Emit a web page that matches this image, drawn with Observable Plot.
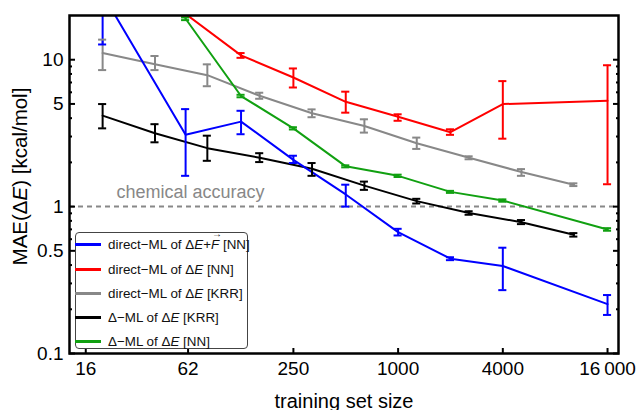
<!DOCTYPE html>
<html><head><meta charset="utf-8">
<script src="https://cdn.jsdelivr.net/npm/d3@7"></script>
<script src="https://cdn.jsdelivr.net/npm/@observablehq/plot@0.6"></script>
<style>
body{margin:0;background:#fff;font-family:"Liberation Sans",Arial,sans-serif;}
#wrap{position:relative;width:638px;height:410px;}
#legend{position:absolute;left:75px;top:232px;width:173px;height:117px;border:1px solid #444;border-radius:4px;background:#fff;box-sizing:border-box;font-size:13.4px;color:#111;}
.row{position:absolute;left:-1px;height:16px;display:flex;align-items:center;white-space:nowrap;}
.sw{width:26px;height:3px;margin-right:7px;}
.vec{position:relative;display:inline-block;}
.vec::after{content:"\2192";position:absolute;left:1px;top:-9px;font-size:10px;font-style:normal;}
</style></head><body><div id="wrap"><div id="plot"></div><div id="legend"></div></div>
<script>
// ---- data ----
const seriesNames = ["direct-ML ΔE+F [NN]", "direct-ML ΔE [NN]", "direct-ML ΔE [KRR]", "Δ-ML ΔE [KRR]", "Δ-ML ΔE [NN]"];
const seriesColors = ["#0000ff", "#ff0000", "#888888", "#000000", "#11a011"];

const blueX = [20, 60, 125, 250, 500, 1000, 2000, 4000, 16000];
const blueY = [28, 3.08, 3.79, 2.08, 1.21, 0.67, 0.442, 0.394, 0.217];
const blueLo = [12.7, 1.62, 3.11, 1.98, 1.0, 0.636, 0.432, 0.27, 0.183];
const blueHi = [40, 4.61, 4.49, 2.22, 1.41, 0.706, 0.452, 0.525, 0.25];

const redX = [60, 125, 250, 500, 1000, 2000, 4000, 16000];
const redY = [20.5, 10.7, 7.57, 5.17, 4.09, 3.21, 4.99, 5.26];
const redLo = [20.0, 10.3, 6.47, 4.36, 3.84, 3.08, 2.90, 1.42];
const redHi = [21.0, 11.1, 8.72, 6.06, 4.25, 3.36, 7.15, 9.17];

const grayX = [20, 40, 80, 160, 320, 640, 1280, 2560, 5120, 10240];
const grayY = [11.1, 9.3, 7.85, 5.68, 4.32, 3.54, 2.70, 2.15, 1.72, 1.41];
const grayLo = [8.5, 8.5, 6.6, 5.42, 4.06, 3.19, 2.47, 2.10, 1.62, 1.38];
const grayHi = [13.7, 10.6, 9.3, 5.96, 4.59, 3.93, 2.95, 2.20, 1.80, 1.44];

const blackX = [20, 40, 80, 160, 320, 640, 1280, 2560, 5120, 10240];
const blackY = [4.16, 3.16, 2.50, 2.15, 1.81, 1.39, 1.09, 0.906, 0.783, 0.643];
const blackLo = [3.41, 2.74, 2.05, 2.01, 1.62, 1.30, 1.05, 0.88, 0.76, 0.625];
const blackHi = [4.99, 3.64, 3.04, 2.31, 1.98, 1.48, 1.13, 0.93, 0.81, 0.66];

const greenX = [60, 125, 250, 500, 1000, 2000, 4000, 16000];
const greenY = [19.0, 5.66, 3.41, 1.88, 1.62, 1.26, 1.10, 0.699];
const greenLo = [18.6, 5.55, 3.35, 1.85, 1.59, 1.24, 1.08, 0.685];
const greenHi = [19.4, 5.77, 3.47, 1.91, 1.65, 1.28, 1.12, 0.713];

const xTicks = [16, 62, 250, 1000, 4000, 16000];
const xTickLabels = ["16", "62", "250", "1000", "4000", "16\u2009000"];
const yTicks = [0.1, 0.5, 1, 5, 10];
const yTickLabels = ["0.1", "0.5", "1", "5", "10"];
const yMinorTicks = [0.2, 0.3, 0.4, 0.6, 0.7, 0.8, 0.9, 2, 3, 4, 6, 7, 8, 9];
const accuracyLevel = 1;
const xTitle = "training set size";
const yTitle = "MAE(ΔE) [kcal/mol]";

const legendHTML = [
  'direct\u2212ML of \u0394<i>E</i>+<span class="vec"><i>F</i></span> [NN]',
  'direct\u2212ML of \u0394<i>E</i> [NN]',
  'direct\u2212ML of \u0394<i>E</i> [KRR]',
  '\u0394\u2212ML of \u0394<i>E</i> [KRR]',
  '\u0394\u2212ML of \u0394<i>E</i> [NN]'
];

// ---- table ----
const raw = [
  [blueX, blueY, blueLo, blueHi],
  [redX, redY, redLo, redHi],
  [grayX, grayY, grayLo, grayHi],
  [blackX, blackY, blackLo, blackHi],
  [greenX, greenY, greenLo, greenHi]
];
const rows = [];
raw.forEach(([xs, ys, los, his], s) => xs.forEach((x, i) => rows.push({name: seriesNames[s], x, y: ys[i], lo: los[i], hi: his[i]})));
const drawOrder = [2, 3, 4, 1, 0];
const ordered = drawOrder.flatMap(s => rows.filter(r => r.name === seriesNames[s]));

const capF = 1.055;

const chart = Plot.plot({
  width: 638, height: 410,
  marginLeft: 69, marginRight: 20, marginTop: 15, marginBottom: 57,
  style: {fontFamily: '"Liberation Sans", Arial, sans-serif', fontSize: "19px", color: "#000", background: "#fff"},
  x: {type: "log", domain: [12.9, 18500]},
  y: {type: "log", domain: [0.1, 20]},
  color: {domain: seriesNames, range: seriesColors},
  marks: [
    Plot.ruleY([accuracyLevel], {stroke: "#888", strokeWidth: 2, strokeDasharray: "5,4"}),
    Plot.text([accuracyLevel], {x: 64, y: d => d, text: () => "chemical accuracy", dy: -9, lineAnchor: "bottom", fill: "#888", fontSize: 18}),
    Plot.line(ordered, {x: "x", y: "y", z: "name", stroke: "name", strokeWidth: 2, clip: true}),
    Plot.ruleX(ordered, {x: "x", y1: "lo", y2: "hi", stroke: "name", strokeWidth: 2, clip: true}),
    Plot.ruleY(ordered, {y: "lo", x1: d => d.x / capF, x2: d => d.x * capF, stroke: "name", strokeWidth: 2, clip: true}),
    Plot.ruleY(ordered, {y: "hi", x1: d => d.x / capF, x2: d => d.x * capF, stroke: "name", strokeWidth: 2, clip: true}),
    // tick labels
    Plot.text(xTicks, {x: d => d, frameAnchor: "bottom", text: (d, i) => xTickLabels[i], lineAnchor: "top", dy: 8, fontSize: 19}),
    Plot.text(yTicks, {y: d => d, frameAnchor: "left", text: (d, i) => yTickLabels[i], textAnchor: "end", dx: -6, fontSize: 19}),
    // axis titles
    Plot.text([xTitle], {frameAnchor: "bottom", text: d => d, lineAnchor: "bottom", dy: 54, fontSize: 20}),
    Plot.text([yTitle], {frameAnchor: "left", text: d => d, rotate: -90, textAnchor: "middle", lineAnchor: "middle", dx: -49, dy: -8, fontSize: 20.5}),
    // inward ticks
    Plot.axisX({ticks: xTicks, tickSize: -5, strokeWidth: 2, fill: "none"}),
    Plot.axisY({ticks: yTicks, tickSize: -6, strokeWidth: 2, fill: "none", anchor: "left"}),
    Plot.axisY({ticks: yTicks, tickSize: -6, strokeWidth: 2, fill: "none", anchor: "right"}),
    Plot.axisY({ticks: yMinorTicks, tickSize: -3, strokeWidth: 2, fill: "none", anchor: "left"}),
    Plot.axisY({ticks: yMinorTicks, tickSize: -3, strokeWidth: 2, fill: "none", anchor: "right"}),
    Plot.frame({stroke: "#000", strokeWidth: 2.5})
  ]
});
document.getElementById("plot").appendChild(chart);

// italic E in the y title
d3.select(chart).selectAll("text").each(function() {
  if (this.textContent === yTitle) {
    const t = d3.select(this);
    t.text(null);
    t.append("tspan").text("MAE(Δ");
    t.append("tspan").attr("font-style", "italic").text("E");
    t.append("tspan").text(") [kcal/mol]");
  }
});

// legend
const lg = document.getElementById("legend");
const rowTops = [3, 28, 52, 76, 100];
seriesNames.forEach((n, i) => {
  const r = document.createElement("div");
  r.className = "row";
  r.style.top = rowTops[i] + "px";
  r.innerHTML = `<span class="sw" style="background:${seriesColors[i]}"></span><span>${legendHTML[i]}</span>`;
  lg.appendChild(r);
});
</script>
</body></html>
